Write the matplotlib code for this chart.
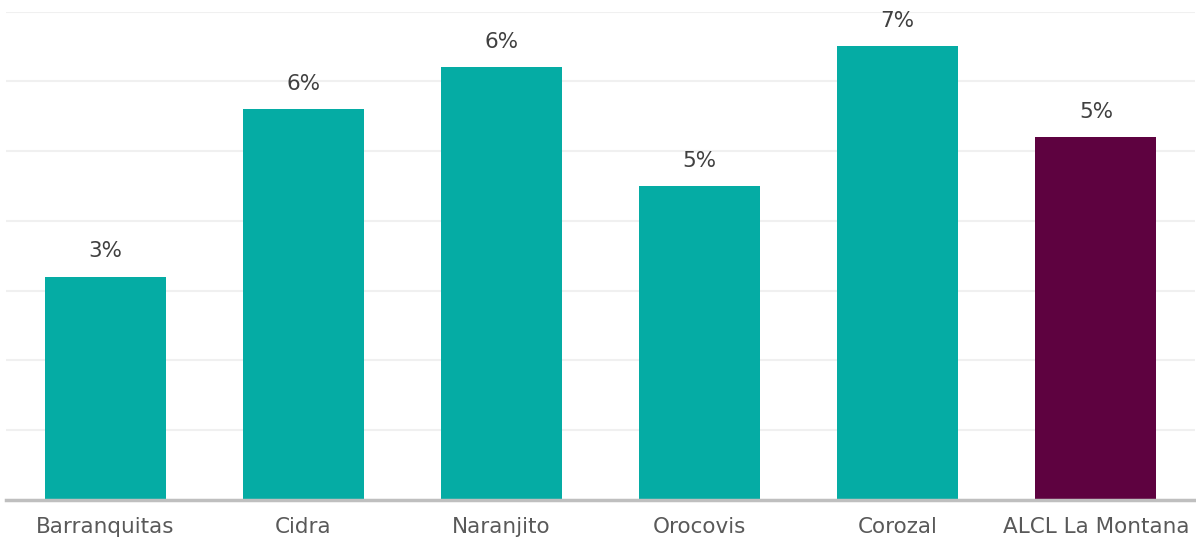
import matplotlib
matplotlib.use("Agg")
import matplotlib.pyplot as plt

categories = ["Barranquitas", "Cidra", "Naranjito", "Orocovis", "Corozal", "ALCL La Montana"]
values = [3.2, 5.6, 6.2, 4.5, 6.5, 5.2]
labels = ["3%", "6%", "6%", "5%", "7%", "5%"]
colors = ["#05ACA4"] * 5 + ["#5E0240"]

plt.rcParams['font.family'] = ['DejaVu Sans']

fig = plt.figure(figsize=(11.96, 5.42), dpi=100)
ax = fig.add_axes([6/1196, 42/542, 1189/1196, 488.5/542])

x = range(len(categories))
ax.bar(x, values, width=0.61, color=colors, zorder=3)
for xi, v, lab in zip(x, values, labels):
    ax.annotate(lab, (xi, v), xytext=(0, 11), textcoords="offset points",
                ha="center", va="bottom", fontsize=15.5, color="#404040")

ax.set_xlim(-0.5, len(categories) - 0.5)
ax.set_ylim(0, 7)
ax.set_yticks(range(0, 8))
ax.yaxis.grid(True, color="#F0F0F0", linewidth=1.5, zorder=0)
ax.tick_params(axis="y", left=False, labelleft=False)
ax.set_xticks(list(x))
ax.set_xticklabels(categories, fontsize=15.5, color="#595959")
ax.tick_params(axis="x", length=0, pad=12)
for s in ["top", "right", "left"]:
    ax.spines[s].set_visible(False)
ax.spines["bottom"].set_color("#BFBFBF")
ax.spines["bottom"].set_linewidth(2.5)
ax.spines["bottom"].set_zorder(4)

fig.savefig("out.png", dpi=100)
